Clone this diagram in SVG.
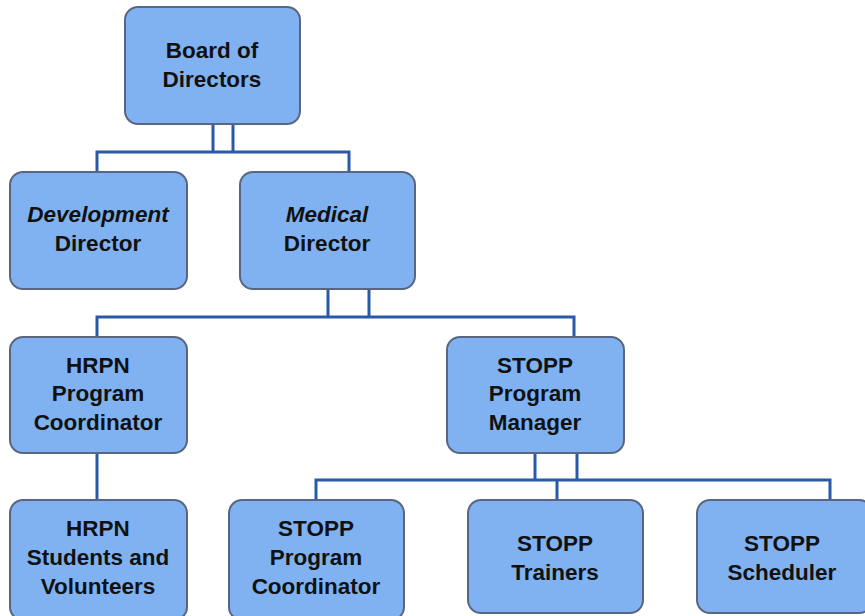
<svg xmlns="http://www.w3.org/2000/svg" width="865" height="616" viewBox="0 0 865 616">
<style>
.box{fill:#80b2f2;stroke:#5a6680;stroke-width:2}
.t{font-family:"Liberation Sans",Arial,sans-serif;font-weight:bold;font-size:22.5px;fill:#111;text-anchor:middle}
.i{font-style:italic}
.c{fill:none;stroke:#2a5aa6;stroke-width:3}
</style>
<rect width="865" height="616" fill="#fff"/>
<g id="connectors">
<path class="c" d="M213,124V152M233,124V152M97,172V152H349V172"/>
<path class="c" d="M328,289V317M369,289V317M97,337V317H574V337"/>
<path class="c" d="M97,453V500"/>
<path class="c" d="M535,453V480M577,453V480M316,500V480H830V500M557,480V500"/>
</g>
<g id="board"><rect class="box" x="125" y="7" width="175" height="117" rx="13"/>
<text class="t" x="212" y="58">Board of</text><text class="t" x="212" y="87">Directors</text></g>
<g id="development"><rect class="box" x="10" y="172" width="177" height="117" rx="13"/>
<text class="t i" x="98" y="222">Development</text><text class="t" x="98" y="251">Director</text></g>
<g id="medical"><rect class="box" x="240" y="172" width="175" height="117" rx="13"/>
<text class="t i" x="327" y="222">Medical</text><text class="t" x="327" y="251">Director</text></g>
<g id="hrpn-coord"><rect class="box" x="10" y="337" width="177" height="116" rx="13"/>
<text class="t" x="98" y="373">HRPN</text><text class="t" x="98" y="401">Program</text><text class="t" x="98" y="430">Coordinator</text></g>
<g id="stopp-manager"><rect class="box" x="447" y="337" width="177" height="116" rx="13"/>
<text class="t" x="535" y="373">STOPP</text><text class="t" x="535" y="401">Program</text><text class="t" x="535" y="430">Manager</text></g>
<g id="hrpn-students"><rect class="box" x="10" y="500" width="177" height="120" rx="13"/>
<text class="t" x="98" y="536">HRPN</text><text class="t" x="98" y="565">Students and</text><text class="t" x="98" y="594">Volunteers</text></g>
<g id="stopp-coord"><rect class="box" x="229" y="500" width="175" height="120" rx="13"/>
<text class="t" x="316" y="536">STOPP</text><text class="t" x="316" y="565">Program</text><text class="t" x="316" y="594">Coordinator</text></g>
<g id="stopp-trainers"><rect class="box" x="468" y="500" width="175" height="113" rx="13"/>
<text class="t" x="555" y="551">STOPP</text><text class="t" x="555" y="580">Trainers</text></g>
<g id="stopp-scheduler"><rect class="box" x="697" y="500" width="175" height="113" rx="13"/>
<text class="t" x="782" y="551">STOPP</text><text class="t" x="782" y="580">Scheduler</text></g>
</svg>
